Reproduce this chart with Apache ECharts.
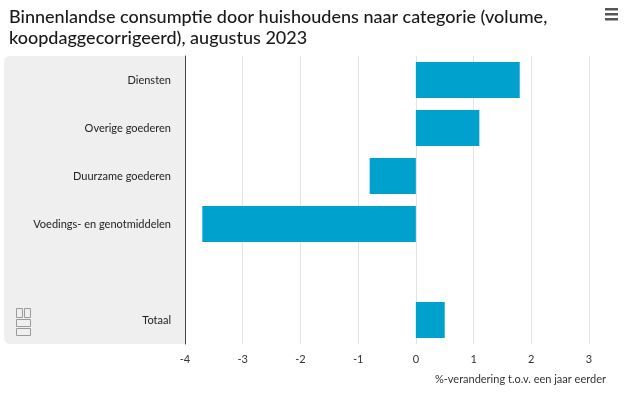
<!DOCTYPE html>
<html>
<head>
<meta charset="utf-8">
<script src="https://cdn.jsdelivr.net/npm/echarts@6/dist/echarts.min.js"></script>
<style>
  html, body { margin: 0; padding: 0; background: #fff; }
  #chart { width: 625px; height: 396px; }
</style>
</head>
<body>
<div id="chart"></div>
<script>
// categorieën (lege regel tussen voeding en totaal)
var categories = ['Diensten', 'Overige goederen', 'Duurzame goederen', 'Voedings- en genotmiddelen', '', 'Totaal'];
var values = [1.8, 1.1, -0.8, -3.7, null, 0.5];
var xTicks = [-4, -3, -2, -1, 0, 1, 2, 3];

var fontFam = 'Lato, "Open Sans", sans-serif';
var myChart = echarts.init(document.getElementById('chart'));

myChart.setOption({
  animation: false,
  title: {
    text: 'Binnenlandse consumptie door huishoudens naar categorie (volume,\nkoopdaggecorrigeerd), augustus 2023',
    left: 4,
    top: 2,
    textStyle: {
      fontFamily: fontFam,
      fontSize: 18,
      fontWeight: 500,
      color: '#1a1a1a',
      lineHeight: 21
    }
  },
  graphic: [
    {
      // grijs vlak achter de categorieën
      type: 'rect',
      z: -10,
      shape: { x: 4, y: 56, width: 181, height: 288, r: [6, 0, 0, 6] },
      style: { fill: '#efefef' }
    },
    { type: 'rect', shape: { x: 605, y: 8, width: 13, height: 2.5 }, style: { fill: '#555' } },
    { type: 'rect', shape: { x: 605, y: 13, width: 13, height: 2.5 }, style: { fill: '#555' } },
    { type: 'rect', shape: { x: 605, y: 18, width: 13, height: 2.5 }, style: { fill: '#555' } },
    // cbs logo (vereenvoudigd)
    {
      type: 'group',
      left: 14,
      top: 306,
      children: [
        { type: 'rect', shape: { x: 0, y: 0, width: 6, height: 9 }, style: { fill: 'none', stroke: '#9a9a9a', lineWidth: 1 } },
        { type: 'rect', shape: { x: 8, y: 0, width: 6, height: 9 }, style: { fill: 'none', stroke: '#9a9a9a', lineWidth: 1 } },
        { type: 'rect', shape: { x: 0, y: 11, width: 14, height: 7 }, style: { fill: 'none', stroke: '#9a9a9a', lineWidth: 1 } },
        { type: 'rect', shape: { x: 0, y: 20, width: 14, height: 7 }, style: { fill: 'none', stroke: '#9a9a9a', lineWidth: 1 } }
      ]
    }
  ],
  grid: {
    left: 185,
    right: 36,
    top: 56,
    bottom: 52,
    containLabel: false
  },
  xAxis: {
    type: 'value',
    min: -4,
    max: 3,
    interval: 1,
    name: '%-verandering t.o.v. een jaar eerder',
    nameLocation: 'end',
    nameGap: 0,
    nameTextStyle: {
      fontFamily: fontFam,
      fontSize: 11,
      color: '#333',
      align: 'right',
      verticalAlign: 'top',
      padding: [30, -17, 0, 0]
    },
    axisLine: { show: false },
    axisTick: { show: false },
    axisLabel: {
      fontFamily: fontFam,
      fontSize: 11,
      color: '#333',
      margin: 10,
      formatter: function (v) { return xTicks.indexOf(v) >= 0 ? String(v) : ''; }
    },
    splitLine: { show: true, lineStyle: { color: '#e3e3e3', width: 1 } }
  },
  yAxis: {
    type: 'category',
    data: categories,
    inverse: true,
    axisLine: { show: true, onZero: false, lineStyle: { color: '#444', width: 1 } },
    axisTick: { show: false },
    axisLabel: {
      fontFamily: fontFam,
      fontSize: 11,
      color: '#222',
      margin: 14
    }
  },
  series: [
    {
      type: 'bar',
      data: values,
      barCategoryGap: '25%',
      itemStyle: { color: '#00a1cd' }
    }
  ]
});
</script>
</body>
</html>
